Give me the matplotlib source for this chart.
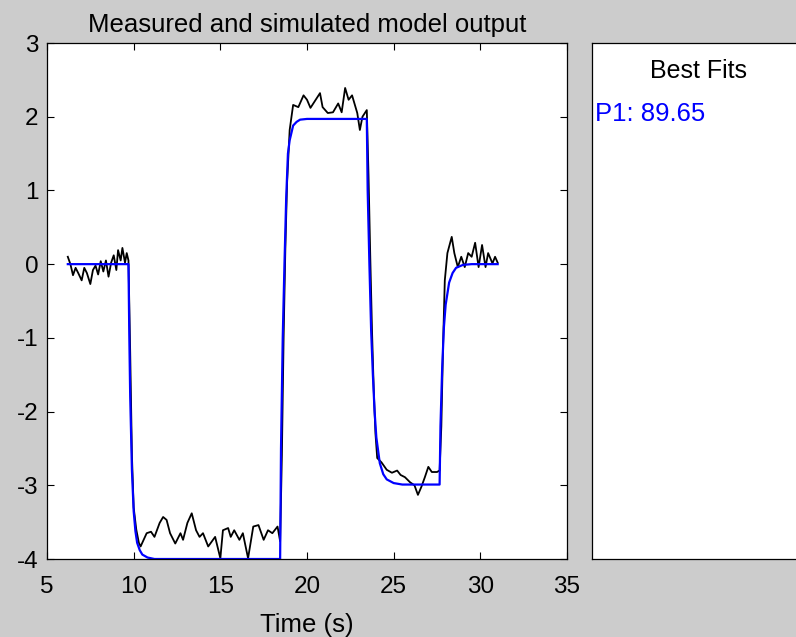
import matplotlib
matplotlib.use("Agg")
import matplotlib.pyplot as plt

# ---- data ----
meas_t = [6.2, 6.35, 6.5, 6.65, 6.8, 7.0, 7.15, 7.3, 7.5, 7.65, 7.8, 7.95, 8.1, 8.25, 8.4, 8.55,
          8.7, 8.85, 9.0, 9.1, 9.25, 9.35, 9.5, 9.6, 9.7,
          9.8, 9.9, 10.0, 10.15, 10.3, 10.4,
          10.75, 11.0, 11.2, 11.5, 11.7, 11.9, 12.1, 12.4, 12.7, 12.85, 13.1, 13.35, 13.6, 13.8,
          14.0, 14.3, 14.7, 15.0, 15.15, 15.45, 15.6, 15.8, 16.1, 16.3, 16.6, 16.9, 17.2, 17.5,
          17.75, 18.0, 18.3, 18.45,
          18.55, 18.65, 18.75, 18.85, 18.95, 19.0, 19.2, 19.5, 19.8, 20.0, 20.2, 20.5, 20.75, 20.9,
          21.2, 21.5, 21.8, 22.0, 22.2, 22.4, 22.6, 22.9, 23.05, 23.2, 23.45,
          23.55, 23.65, 23.75, 23.85, 23.95, 24.05, 24.3, 24.6, 24.9, 25.2, 25.4, 25.65, 25.95,
          26.2, 26.4, 26.6, 26.8, 27.0, 27.2, 27.5, 27.65,
          27.75, 27.85, 27.95, 28.1, 28.35, 28.5, 28.7, 28.9, 29.1, 29.3, 29.5, 29.7, 29.9,
          30.1, 30.3, 30.45, 30.7, 30.85, 31.0]
meas_y = [0.1, 0.0, -0.15, -0.05, -0.12, -0.22, -0.05, -0.12, -0.27, -0.08, -0.02, -0.14, 0.04, -0.1, 0.05, -0.17,
          0.02, 0.12, -0.08, 0.19, 0.05, 0.22, 0.02, 0.15, 0.05,
          -1.2, -2.6, -3.3, -3.6, -3.78, -3.83,
          -3.65, -3.63, -3.7, -3.51, -3.43, -3.47, -3.65, -3.79, -3.65, -3.74, -3.51, -3.38, -3.61, -3.7,
          -3.65, -3.83, -3.7, -3.99, -3.61, -3.58, -3.7, -3.61, -3.74, -3.65, -3.99, -3.56, -3.54, -3.74,
          -3.61, -3.65, -3.56, -3.76,
          -2.6, -1.0, 0.2, 1.1, 1.6, 1.82, 2.16, 2.13, 2.29, 2.23, 2.12, 2.23, 2.32, 2.13,
          2.05, 2.06, 2.18, 2.06, 2.39, 2.23, 2.29, 2.05, 1.82, 2.0, 2.09,
          1.2, 0.1, -0.9, -1.7, -2.3, -2.63, -2.69, -2.79, -2.83, -2.8, -2.86, -2.89, -2.96,
          -3.0, -3.13, -3.02, -2.89, -2.75, -2.82, -2.82, -2.8,
          -2.2, -1.1, -0.22, 0.15, 0.37, 0.15, -0.04, 0.1, -0.04, 0.15, 0.1, 0.29, -0.04,
          0.26, -0.04, 0.15, 0.01, 0.1, 0.02]

sim_t = [6.2, 9.7, 9.75, 9.8, 9.9, 10.0, 10.1, 10.2, 10.35, 10.5, 10.8, 11.2, 18.45,
         18.5, 18.6, 18.7, 18.8, 18.9, 19.0, 19.2, 19.4, 19.6, 20.0, 23.45,
         23.5, 23.6, 23.7, 23.8, 23.9, 24.0, 24.2, 24.4, 24.6, 25.0, 25.5, 27.65,
         27.7, 27.8, 27.9, 28.0, 28.2, 28.4, 28.6, 29.0, 29.5, 31.0]
sim_y = [0.0, 0.0, -1.0, -1.8, -2.8, -3.35, -3.62, -3.78, -3.88, -3.94, -3.98, -4.0, -4.0,
         -2.5, -1.0, 0.0, 0.9, 1.5, 1.68, 1.88, 1.93, 1.96, 1.97, 1.97,
         1.0, 0.0, -0.9, -1.5, -2.0, -2.35, -2.7, -2.85, -2.92, -2.97, -2.99, -2.99,
         -2.2, -1.4, -0.85, -0.55, -0.25, -0.12, -0.05, -0.01, 0.0, 0.0]

xticks = [5, 10, 15, 20, 25, 30, 35]
yticks = [-4, -3, -2, -1, 0, 1, 2, 3]
fit_label = "P1: 89.65"

# ---- figure ----
plt.rcParams['font.family'] = ['Liberation Sans', 'DejaVu Sans']
plt.rcParams['axes.unicode_minus'] = False
W, H = 796, 637
fig = plt.figure(figsize=(W / 100, H / 100), dpi=100)
fig.patch.set_facecolor('#cccccc')

ax = fig.add_axes([47 / W, 1 - 559 / H, (567 - 47) / W, (559 - 43) / H])
ax.plot(meas_t, meas_y, color='black', lw=1.3)
ax.plot(sim_t, sim_y, color='#0000ff', lw=1.6)
ax.set_xlim(5, 35)
ax.set_ylim(-4, 3)
ax.set_xticks(xticks)
ax.set_yticks(yticks)
ax.tick_params(direction='in', length=5, width=0.8, labelsize=17.5, top=True, right=True,
               colors='black')
ax.tick_params(axis='x', pad=12)
ax.tick_params(axis='y', pad=6)
for s in ax.spines.values():
    s.set_linewidth(0.9)
ax.set_title("Measured and simulated model output", fontsize=18.5, pad=8)
ax.set_xlabel("Time (s)", fontsize=18.5, labelpad=11)

ax2 = fig.add_axes([592 / W, 1 - 559 / H, 0.3, (559 - 43) / H])
ax2.set_xticks([])
ax2.set_yticks([])
for s in ax2.spines.values():
    s.set_linewidth(0.9)
fig.text(699 / W, 1 - 71 / H, "Best Fits", fontsize=18, ha='center', va='center')
fig.text(595 / W, 1 - 114 / H, fit_label, fontsize=18.5, color='#0000ff', ha='left', va='center')

fig.savefig("out.png", dpi=100, facecolor=fig.get_facecolor())
